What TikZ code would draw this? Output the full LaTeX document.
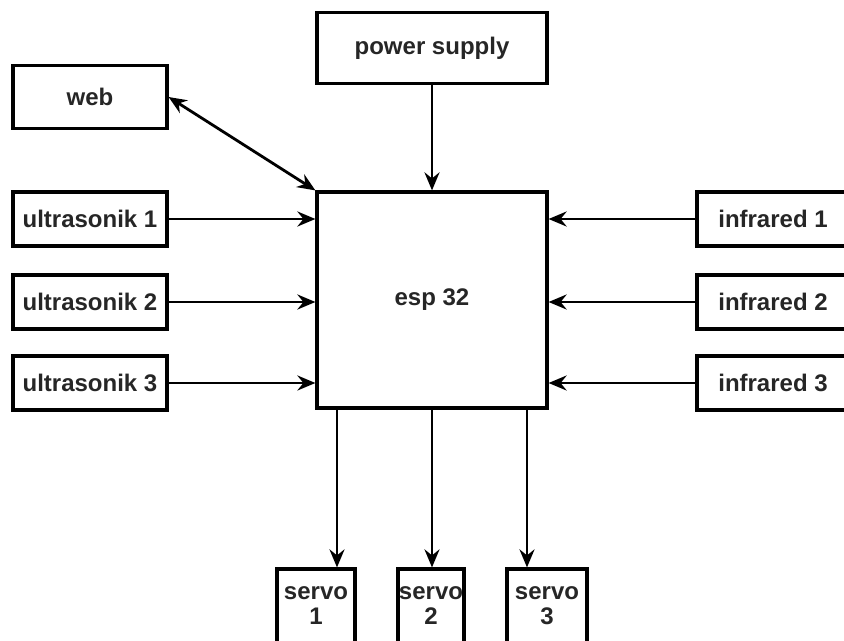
\documentclass[tikz,border=0pt]{standalone}
\usepackage{fontspec}
\setsansfont{Liberation Sans}
\usepackage{tikz}
\usetikzlibrary{arrows.meta,positioning}

\begin{document}
\begin{tikzpicture}[
  x=0.5pt, y=-0.5pt,
  >={Stealth[length=9pt, width=7.5pt, inset=3pt]},
  box/.style={draw, line width=1.6pt, fill=white, inner sep=0pt,
              font=\sffamily\bfseries\fontsize{12}{12.5}\selectfont,
              text=black!85, align=center},
  arr/.style={->, line width=1.4pt},
]
\useasboundingbox (0,0) rectangle (844,641);

% === Centre: controller and supply ===
\node[box, minimum width=115pt, minimum height=108pt] (esp) at (432,300) {esp 32};
\node[box, minimum width=115pt, minimum height=35.5pt] (psu) at (432,48) {power supply};
\node[box, minimum width=77pt, minimum height=31.5pt] (web) at (90,97) {web};

\draw[arr] (psu.south) -- (esp.north);
\draw[arr, <->] (web.east) -- (esp.north west);

% === Left: ultrasonic sensors, right: infrared sensors ===
\foreach \i/\y in {1/219,2/302,3/383} {
  \node[box, minimum width=77pt, minimum height=27pt] (us\i) at (90,\y) {ultrasonik \i};
  \node[box, minimum width=76pt, minimum height=27pt] (ir\i) at (773,\y) {infrared \i};
  \draw[arr] (us\i.east) -- (us\i.east -| esp.west);
  \draw[arr] (ir\i.west) -- (ir\i.west -| esp.east);
}

% === Bottom: servos ===
\node[box, minimum width=39pt, minimum height=37pt] (servo1) at (316,606) {servo\\1};
\node[box, minimum width=33pt, minimum height=37pt] (servo2) at (431,606) {servo\\2};
\node[box, minimum width=40pt, minimum height=37pt] (servo3) at (547,606) {servo\\3};

\draw[arr] ([xshift=-47.5pt]esp.south) -- ([xshift=-47.5pt]esp.south |- servo1.north);
\draw[arr] (esp.south) -- (esp.south |- servo2.north);
\draw[arr] ([xshift=47.5pt]esp.south) -- ([xshift=47.5pt]esp.south |- servo3.north);

\end{tikzpicture}
\end{document}
